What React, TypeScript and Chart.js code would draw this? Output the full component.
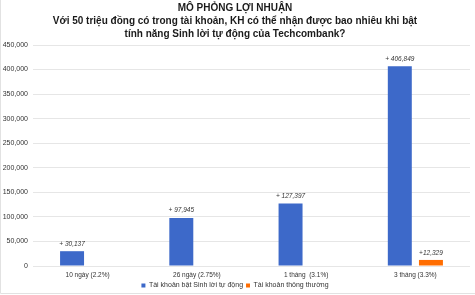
import React, { useEffect, useRef } from "react";
import { Chart, registerables } from "chart.js";

Chart.register(...registerables);

const categories = ["10 ngày (2.2%)", "26 ngày (2.75%)", "1 tháng  (3.1%)", "3 tháng (3.3%)"];
const autoValues = [30137, 97945, 127397, 406849];
const normalValues: (number | null)[] = [null, null, null, 12329];
const autoLabels = ["+ 30,137", "+ 97,945", "+ 127,397", "+ 406,849"];
const normalLabels = ["", "", "", "+12,329"];
const seriesNames = ["Tài khoản bật Sinh lời tự động", "Tài khoản thông thường"];
const titleLines = [
  "MÔ PHỎNG LỢI NHUẬN",
  "Với 50 triệu đồng có trong tài khoản, KH có thể nhận được bao nhiêu khi bật",
  "tính năng Sinh lời tự động của Techcombank?",
];

const FONT = "'Liberation Sans', Arial, sans-serif";

const valueLabelPlugin = {
  id: "valueLabels",
  afterDatasetsDraw(chart: any) {
    const ctx = chart.ctx;
    const all = [autoLabels, normalLabels];
    ctx.save();
    ctx.font = `italic 6.5px ${FONT}`;
    ctx.fillStyle = "#333333";
    ctx.textAlign = "center";
    ctx.textBaseline = "bottom";
    chart.data.datasets.forEach((ds: any, di: number) => {
      const meta = chart.getDatasetMeta(di);
      meta.data.forEach((el: any, i: number) => {
        const txt = all[di][i];
        if (!txt || ds.data[i] == null) return;
        ctx.fillText(txt, el.x, el.y - 4);
      });
    });
    ctx.restore();
  },
};

const framePlugin = {
  id: "frame",
  beforeDraw(chart: any) {
    const ctx = chart.ctx;
    ctx.save();
    ctx.fillStyle = "#ffffff";
    ctx.fillRect(0, 0, chart.width, chart.height);
    ctx.strokeStyle = "#e2e2e2";
    ctx.lineWidth = 1;
    ctx.beginPath();
    ctx.moveTo(0.5, 0);
    ctx.lineTo(0.5, 293.5);
    ctx.lineTo(chart.width, 293.5);
    ctx.stroke();
    ctx.restore();
  },
};

export default function App() {
  const ref = useRef<HTMLCanvasElement>(null);
  useEffect(() => {
    document.body.style.margin = "0";
    const chart = new Chart(ref.current!, {
      type: "bar",
      data: {
        labels: categories,
        datasets: [
          {
            label: seriesNames[0],
            data: autoValues,
            backgroundColor: "#3d69c9",
            categoryPercentage: 0.57,
            barPercentage: 0.77,
          },
          {
            label: seriesNames[1],
            data: normalValues,
            backgroundColor: "#ff6d01",
            categoryPercentage: 0.57,
            barPercentage: 0.77,
          },
        ],
      },
      options: {
        animation: false,
        responsive: false,
        maintainAspectRatio: false,
        layout: { padding: { left: 0, right: 5, top: 0, bottom: -4 } },
        plugins: {
          title: {
            display: true,
            text: titleLines,
            color: "#1a1a1a",
            font: { family: FONT, size: 10, weight: "bold", lineHeight: 1.3 },
            padding: { top: 2, bottom: 4 },
          },
          legend: {
            position: "bottom",
            labels: {
              boxWidth: 4,
              boxHeight: 4,
              padding: 3,
              color: "#333333",
              font: { family: FONT, size: 7 },
            },
          },
          tooltip: { enabled: false },
        },
        scales: {
          x: {
            grid: { display: false, drawTicks: false },
            border: { display: false },
            ticks: { color: "#333333", font: { family: FONT, size: 6.5 }, padding: 5, maxRotation: 0 },
            afterFit: (s: any) => {
              s.height = 13;
            },
          },
          y: {
            min: 0,
            max: 450000,
            ticks: {
              stepSize: 50000,
              color: "#333333",
              font: { family: FONT, size: 7 },
              padding: 5,
              callback: (v: any) => Number(v).toLocaleString("en-US"),
            },
            grid: { color: "#e6e6e6", drawTicks: false },
            border: { display: false },
            afterFit: (s: any) => {
              s.width = 33;
            },
          },
        },
      },
      plugins: [framePlugin, valueLabelPlugin],
    });
    return () => chart.destroy();
  }, []);
  return (
    <div style={{ width: 475, height: 295 }}>
      <canvas ref={ref} width={475} height={295} style={{ display: "block" }} />
    </div>
  );
}
